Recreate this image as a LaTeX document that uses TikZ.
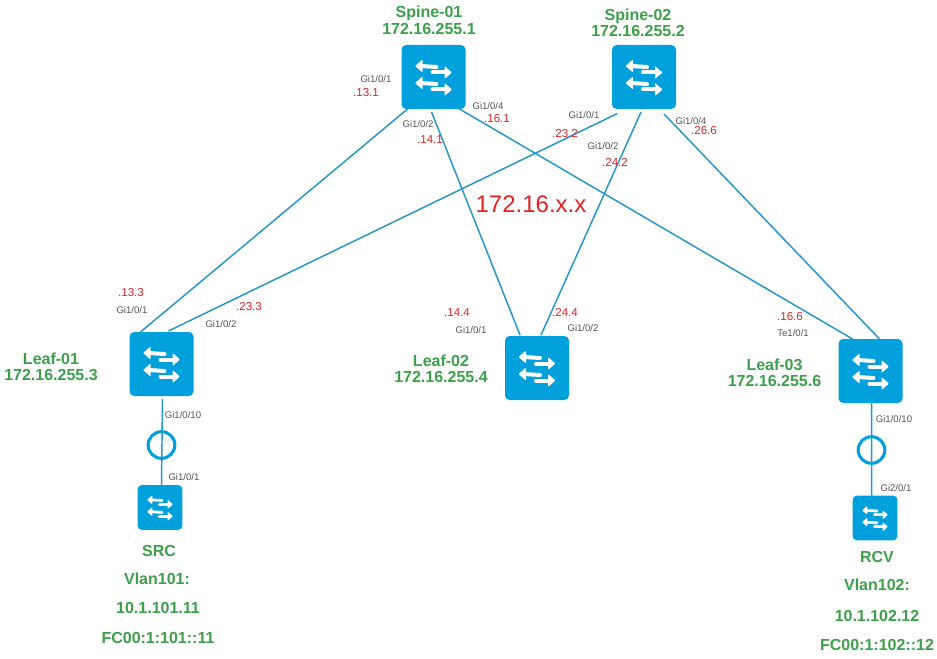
\documentclass[tikz,border=0pt]{standalone}
\usepackage{fontspec}
\setmainfont{Liberation Sans}
\usetikzlibrary{calc}
\definecolor{swblue}{RGB}{0,160,220}
\definecolor{linkblue}{RGB}{35,150,205}
\definecolor{namegreen}{RGB}{60,160,75}
\definecolor{addrred}{RGB}{225,35,35}
\definecolor{portgray}{RGB}{85,85,85}
\tikzset{
  x=0.75pt,y=-0.75pt,
  bigsw/.style={draw=none,fill=swblue,rounded corners=3.5pt,minimum width=48pt,minimum height=48pt,inner sep=0pt,outer sep=0pt},
  smallsw/.style={draw=none,fill=swblue,rounded corners=3pt,minimum width=33.5pt,minimum height=33.5pt,inner sep=0pt,outer sep=0pt},
  link/.style={draw=linkblue,line width=1.1pt},
  ringnode/.style={circle,draw=swblue,line width=2.3pt,minimum size=20pt,inner sep=0pt,fill=none},
  swname/.style={text=namegreen,font=\bfseries\fontsize{12}{12.4}\selectfont,align=center,inner sep=0pt},
  hostname/.style={text=namegreen,font=\bfseries\fontsize{12}{13}\selectfont,inner sep=0pt},
  port/.style={text=portgray,font=\fontsize{7.2}{8}\selectfont,inner sep=0pt},
  addr/.style={text=addrred,font=\fontsize{8.7}{9}\selectfont,inner sep=0pt},
  pics/swarrows/.style={code={
    \begin{scope}[scale=#1]
      \foreach \dy in {0,17}{
        \draw[white,line width=3*#1 pt,line cap=round] (-13,-11+\dy) -- (3,-10+\dy);
        \draw[white,line width=3*#1 pt,line cap=round] (-1,-4.5+\dy) -- (14,-4.5+\dy);
        \fill[white,rounded corners=0.6pt] (-18.5,-11+\dy) -- (-11,-17.5+\dy) -- (-11,-4.5+\dy) -- cycle;
        \fill[white,rounded corners=0.6pt] (18.5,-4.5+\dy) -- (11,-11+\dy) -- (11,2+\dy) -- cycle;
      }
    \end{scope}
  }},
}
\begin{document}
\begin{tikzpicture}
\useasboundingbox (0,0) rectangle (937,659);
% switches
\node[bigsw] (s1) at (433.5,77) {};
\node[bigsw] (s2) at (644,77) {};
\node[bigsw] (l1) at (161.5,364) {};
\node[bigsw] (l2) at (537,368) {};
\node[bigsw] (l3) at (870.5,371) {};
\node[smallsw] (src) at (160,507.5) {};
\node[smallsw] (rcv) at (875,518) {};
\pic at (s1) {swarrows=1};
\pic at (s2) {swarrows=1};
\pic at (l1) {swarrows=1};
\pic at (l2) {swarrows=1};
\pic at (l3) {swarrows=1};
\pic at (src) {swarrows=0.7};
\pic at (rcv) {swarrows=0.7};
% rings
\node[ringnode] (r1) at (161.5,445) {};
\node[ringnode] (r3) at (871.5,450) {};
% links
\draw[link] ($(s1.south west)+(6,0)$) -- ($(l1.north west)+(11,0)$);
\draw[link] ($(s1.south west)+(30,3)$) -- ($(l2.north west)+(15,-1)$);
\draw[link] ($(s1.south east)+(-6,0)$) -- ($(l3.north west)+(14,0)$);
\draw[link] ($(s2.south west)+(5,4.7)$) -- ($(l1.north west)+(39,-1)$);
\draw[link] ($(s2.south west)+(29,3)$) -- ($(l2.north west)+(36,-1)$);
\draw[link] ($(s2.south west)+(52,5)$) -- ($(l3.north west)+(41,0)$);
\draw[link] ($(l1.south)+(1,3)$) -- ($(src.north)+(1.5,0)$);
\draw[link] ($(l3.south)+(1,0)$) -- ($(rcv.north west)+(19,0)$);
% names
\node[swname] (ns1) at (429,20.5) {Spine-01\\172.16.255.1};
\node[swname] (ns2) at (638,23) {Spine-02\\172.16.255.2};
\node[swname] (nl1) at (51,367) {Leaf-01\\172.16.255.3};
\node[swname] (nl2) at (441,369) {Leaf-02\\172.16.255.4};
\node[swname] (nl3) at (774.5,373) {Leaf-03\\172.16.255.6};
\node[hostname] (h1) at (159,551) {SRC};
\node[hostname] (h2) at (157,579) {Vlan101:};
\node[hostname] (h3) at (158,608) {10.1.101.11};
\node[hostname] (h4) at (158,638) {FC00:1:101::11};
\node[hostname] (h5) at (877,557) {RCV};
\node[hostname] (h6) at (877,585) {Vlan102:};
\node[hostname] (h7) at (877,616) {10.1.102.12};
\node[hostname] (h8) at (877,645) {FC00:1:102::12};
% big label
\node[text=addrred,font=\fontsize{18}{20}\selectfont,inner sep=0pt] (net) at (531,204) {172.16.x.x};
% ports
\node[port] (p1) at (376,79) {Gi1/0/1};
\node[port] (p2) at (418,124.5) {Gi1/0/2};
\node[port] (p3) at (488,106) {Gi1/0/4};
\node[port] (p4) at (584,115) {Gi1/0/1};
\node[port] (p5) at (603,146) {Gi1/0/2};
\node[port] (p6) at (691,121) {Gi1/0/4};
\node[port] (p7) at (132,310) {Gi1/0/1};
\node[port] (p8) at (221,324) {Gi1/0/2};
\node[port] (p9) at (471,330) {Gi1/0/1};
\node[port] (p10) at (583,328) {Gi1/0/2};
\node[port] (p11) at (793,333) {Te1/0/1};
\node[port] (p12) at (183,415) {Gi1/0/10};
\node[port] (p13) at (184,477) {Gi1/0/1};
\node[port] (p14) at (894,419) {Gi1/0/10};
\node[port] (p15) at (896,488) {Gi2/0/1};
% addresses
\node[addr] (a1) at (366,93) {.13.1};
\node[addr] (a2) at (430,140) {.14.1};
\node[addr] (a3) at (497,119) {.16.1};
\node[addr] (a4) at (565,134) {.23.2};
\node[addr] (a5) at (615,162) {.24.2};
\node[addr] (a6) at (704,131) {.26.6};
\node[addr] (a7) at (131,293) {.13.3};
\node[addr] (a8) at (249,307) {.23.3};
\node[addr] (a9) at (457,313) {.14.4};
\node[addr] (a10) at (565,312) {.24.4};
\node[addr] (a11) at (790,317) {.16.6};
\end{tikzpicture}
\end{document}
